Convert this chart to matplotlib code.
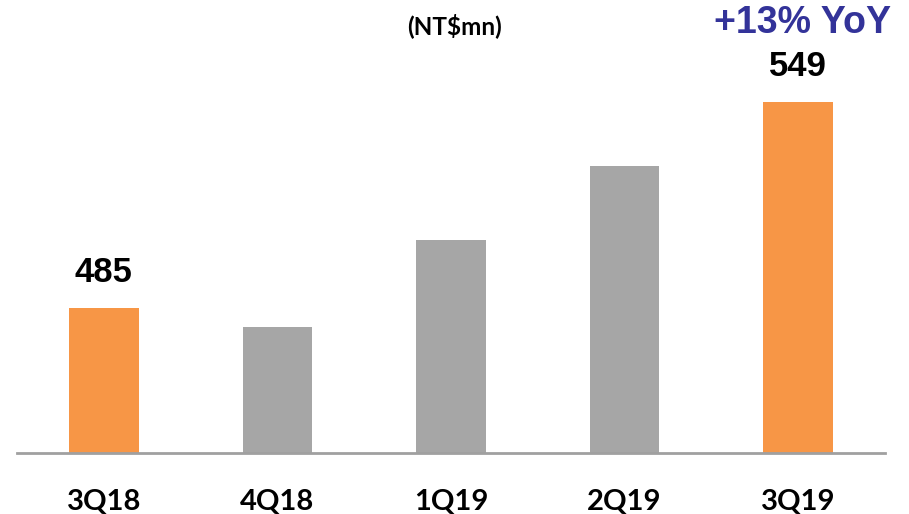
import matplotlib
matplotlib.use('Agg')
import matplotlib.pyplot as plt

quarters = ['3Q18', '4Q18', '1Q19', '2Q19', '3Q19']
revenue = [485, 479, 506, 529, 549]
bar_colors = ['#F79646', '#A6A6A6', '#A6A6A6', '#A6A6A6', '#F79646']
shown_labels = {0: '485', 4: '549'}

W, H = 909, 514
fig = plt.figure(figsize=(W / 100, H / 100), dpi=100)
base_px = 452.7
top_px = 20
ax = fig.add_axes([17 / W, (H - base_px) / H, 868 / W, (base_px - top_px) / H])

px_per_unit = 3.219
ymin = 440
ax.set_ylim(ymin, ymin + (base_px - top_px) / px_per_unit)
ax.set_xlim(-0.5, len(quarters) - 0.5)

x = range(len(quarters))
ax.bar(x, revenue, width=0.4, color=bar_colors, bottom=0)

# value labels only on the two compared quarters
for i, txt in shown_labels.items():
    ax.text(i, revenue[i] + 6, txt, ha='center', va='bottom', fontsize=25,
            fontweight='bold', family='Liberation Sans', color='black')

for s in ['top', 'right', 'left']:
    ax.spines[s].set_visible(False)
ax.spines['bottom'].set_color('#A0A0A0')
ax.spines['bottom'].set_linewidth(2)
ax.set_yticks([])
ax.set_xticks(list(x))
ax.set_xticklabels(quarters, fontsize=21, fontweight='bold', family='Lato')
ax.tick_params(axis='x', length=0, pad=26)

fig.text(455 / W, 1 - 26 / H, '(NT$mn)', ha='center', va='center', fontsize=17.5,
         fontweight='bold', family='Lato')
fig.text(803 / W, 1 - 23 / H, '+13% YoY', ha='center', va='center', fontsize=27,
         fontweight='bold', family='Liberation Sans', color='#333399')

fig.savefig('out.png', dpi=100)
